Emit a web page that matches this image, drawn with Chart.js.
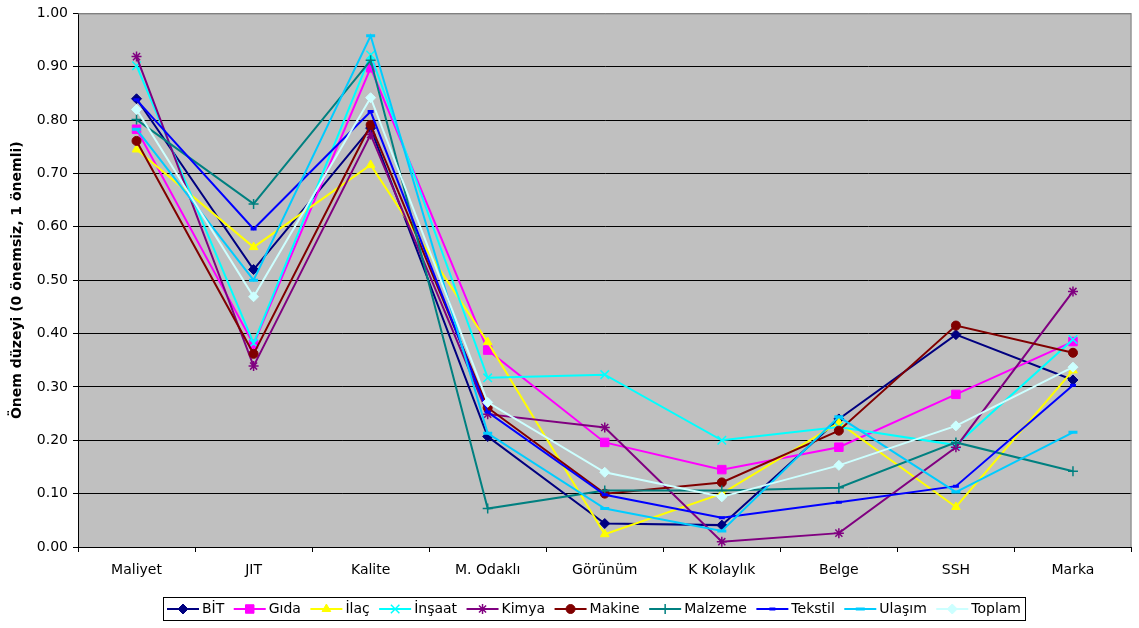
<!DOCTYPE html>
<html>
<head>
<meta charset="utf-8">
<script src="https://cdn.jsdelivr.net/npm/chart.js@4/dist/chart.umd.min.js"></script>
<style>
    html, body { margin: 0; padding: 0; background: #fff; }
    canvas { display: block; }
</style>
</head>
<body>
<canvas id="chart" width="1139" height="628"></canvas>
<script>
// Categories along the x axis
const categories = ['Maliyet', 'JIT', 'Kalite', 'M. Odaklı', 'Görünüm', 'K Kolaylık', 'Belge', 'SSH', 'Marka'];

// Importance level per sector (0 = unimportant, 1 = important)
const bit     = [0.84, 0.52, 0.785, 0.207, 0.044, 0.041, 0.240, 0.398, 0.313];
const gida    = [0.783, 0.380, 0.898, 0.369, 0.196, 0.145, 0.187, 0.286, 0.385];
const ilac    = [0.745, 0.562, 0.716, 0.384, 0.024, 0.100, 0.233, 0.075, 0.331];
const insaat  = [0.902, 0.382, 0.922, 0.317, 0.323, 0.200, 0.225, 0.191, 0.389];
const kimya   = [0.919, 0.339, 0.773, 0.249, 0.224, 0.010, 0.026, 0.187, 0.479];
const makine  = [0.761, 0.362, 0.791, 0.261, 0.100, 0.121, 0.218, 0.415, 0.364];
const malzeme = [0.801, 0.643, 0.912, 0.072, 0.106, 0.106, 0.111, 0.196, 0.142];
const tekstil = [0.838, 0.596, 0.816, 0.253, 0.098, 0.055, 0.084, 0.114, 0.303];
const ulasim  = [0.783, 0.500, 0.958, 0.213, 0.072, 0.030, 0.244, 0.103, 0.215];
const toplam  = [0.820, 0.469, 0.842, 0.271, 0.140, 0.094, 0.153, 0.227, 0.337];

// Y axis range and step
const yMin = 0;
const yMax = 1;
const yStep = 0.1;

const seriesNames = ['BİT', 'Gıda', 'İlaç', 'İnşaat', 'Kimya', 'Makine', 'Malzeme', 'Tekstil', 'Ulaşım', 'Toplam'];
const seriesValues = [bit, gida, ilac, insaat, kimya, makine, malzeme, tekstil, ulasim, toplam];

// Excel-like series styles
const seriesStyles = [
    { color: '#000080', marker: 'rectRot',  radius: 5,   markerBorder: 1 },
    { color: '#FF00FF', marker: 'rect',     radius: 6,   markerBorder: 1 },
    { color: '#FFFF00', marker: 'triangle', radius: 5,   markerBorder: 1 },
    { color: '#00FFFF', marker: 'crossRot', radius: 6,   markerBorder: 1.5 },
    { color: '#800080', marker: 'star',     radius: 5,   markerBorder: 1.5 },
    { color: '#800000', marker: 'circle',   radius: 4.5, markerBorder: 1 },
    { color: '#008080', marker: 'cross',    radius: 5,   markerBorder: 1.5 },
    { color: '#0000FF', marker: 'line',     radius: 3,   markerBorder: 3 },
    { color: '#00CCFF', marker: 'line',     radius: 4.5, markerBorder: 3 },
    { color: '#CCFFFF', marker: 'rectRot',  radius: 5,   markerBorder: 1 }
];

const fontFamily = '"DejaVu Sans", "Liberation Sans", Arial, sans-serif';

const datasets = seriesNames.map((name, i) => {
    const st = seriesStyles[i];
    return {
        label: name,
        data: seriesValues[i],
        borderColor: st.color,
        backgroundColor: st.color,
        borderWidth: 2,
        tension: 0,
        fill: false,
        pointStyle: st.marker,
        pointRadius: st.radius,
        pointBorderWidth: st.markerBorder,
        pointBackgroundColor: st.color,
        pointBorderColor: st.color,
        // later series are drawn on top
        order: seriesNames.length - i
    };
});

// Gray plot background and border
const plotArea = {
    id: 'plotArea',
    beforeDraw(chart) {
        const { ctx, chartArea: a } = chart;
        ctx.save();
        ctx.fillStyle = '#C0C0C0';
        ctx.fillRect(a.left, a.top, a.right - a.left, a.bottom - a.top);
        ctx.restore();
    },
    beforeDatasetsDraw(chart) {
        const { ctx, chartArea: a } = chart;
        ctx.save();
        ctx.strokeStyle = '#808080';
        ctx.lineWidth = 1;
        ctx.beginPath();
        ctx.moveTo(a.left, a.top + 0.5);
        ctx.lineTo(a.right - 0.5, a.top + 0.5);
        ctx.lineTo(a.right - 0.5, a.bottom);
        ctx.stroke();
        ctx.restore();
    }
};

// Boxed legend with line + marker samples
const boxLegend = {
    id: 'boxLegend',
    afterDraw(chart) {
        const ctx = chart.ctx;
        const boxX = 163, boxY = 597, boxW = 862, boxH = 23;
        const lineLen = 32, textGap = 3, pad = 4;
        ctx.save();
        ctx.fillStyle = '#fff';
        ctx.fillRect(boxX, boxY, boxW, boxH);
        ctx.strokeStyle = '#000';
        ctx.lineWidth = 1;
        ctx.strokeRect(boxX + 0.5, boxY + 0.5, boxW, boxH);

        ctx.font = '14px ' + fontFamily;
        ctx.textBaseline = 'middle';
        const sets = chart.data.datasets;
        const widths = sets.map(ds => lineLen + textGap + ctx.measureText(ds.label).width);
        const total = widths.reduce((a, b) => a + b, 0);
        const gap = (boxW - 2 * pad - total) / (sets.length - 1);
        const cy = boxY + boxH / 2 + 0.5;
        let x = boxX + pad;
        sets.forEach((ds, i) => {
            ctx.strokeStyle = ds.borderColor;
            ctx.lineWidth = 2;
            ctx.beginPath();
            ctx.moveTo(x, cy);
            ctx.lineTo(x + lineLen, cy);
            ctx.stroke();

            ctx.fillStyle = ds.pointBackgroundColor;
            ctx.strokeStyle = ds.pointBorderColor;
            ctx.lineWidth = ds.pointBorderWidth;
            Chart.helpers.drawPoint(ctx, {
                pointStyle: ds.pointStyle,
                rotation: 0,
                radius: ds.pointRadius,
                borderWidth: ds.pointBorderWidth
            }, x + lineLen / 2, cy);

            ctx.fillStyle = '#000';
            ctx.fillText(ds.label, x + lineLen + textGap, cy);
            x += widths[i] + gap;
        });
        ctx.restore();
    }
};

new Chart(document.getElementById('chart').getContext('2d'), {
    type: 'line',
    data: {
        labels: categories,
        datasets: datasets
    },
    options: {
        responsive: false,
        animation: false,
        layout: { padding: { top: 10, right: 2, bottom: 0, left: 0 } },
        plugins: {
            legend: { display: false },
            tooltip: { enabled: false }
        },
        scales: {
            x: {
                offset: true,
                grid: {
                    offset: true,
                    drawOnChartArea: false,
                    color: '#000',
                    tickLength: 5
                },
                border: { color: '#000', width: 1 },
                ticks: {
                    color: '#000',
                    font: { family: fontFamily, size: 14 },
                    padding: 10,
                    maxRotation: 0,
                    autoSkip: false
                },
                afterFit(scale) { scale.height = 81; }
            },
            y: {
                min: yMin,
                max: yMax,
                ticks: {
                    stepSize: yStep,
                    color: '#000',
                    font: { family: fontFamily, size: 14 },
                    padding: 5,
                    callback: v => v.toFixed(2)
                },
                grid: {
                    color: c => (c.tick && Math.abs(c.tick.value - yMax) < 1e-9) ? '#808080' : '#000',
                    tickColor: '#000',
                    tickLength: 5
                },
                border: { color: '#000', width: 1 },
                title: {
                    display: true,
                    text: 'Önem düzeyi (0 önemsiz, 1 önemli)',
                    color: '#000',
                    font: { family: fontFamily, size: 14, weight: 'bold' },
                    padding: { top: 9, bottom: 0 }
                },
                afterFit(scale) { scale.width = 78; }
            }
        }
    },
    plugins: [plotArea, boxLegend]
});
</script>
</body>
</html>
